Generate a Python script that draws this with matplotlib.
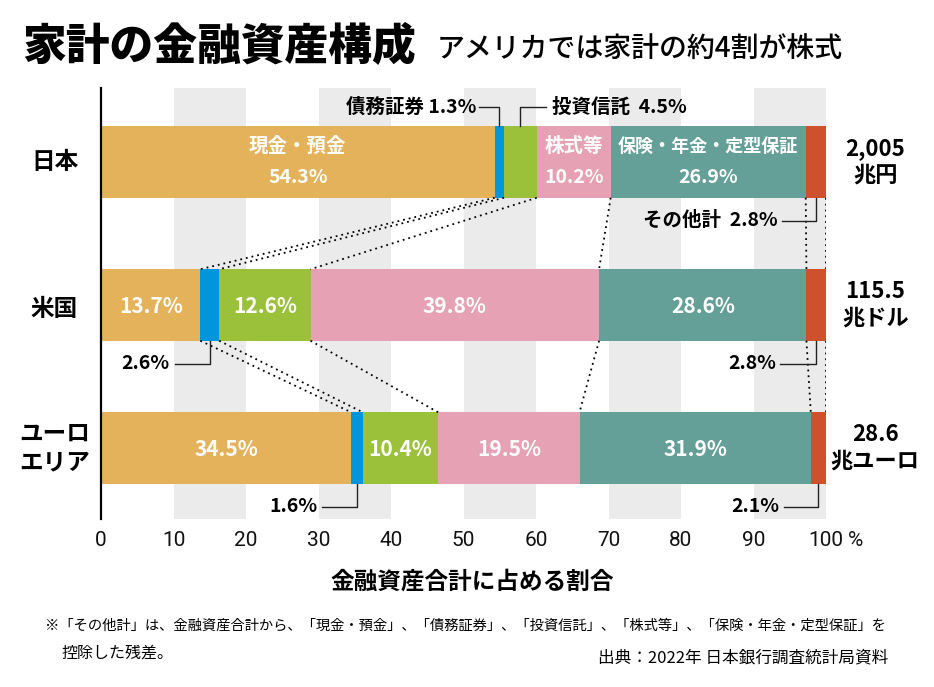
import matplotlib
matplotlib.use("Agg")
import matplotlib.pyplot as plt
import numpy as np

plt.rcParams['font.family'] = ['Noto Sans CJK JP', 'DejaVu Sans']

# ---- data ----
regions = ["日本", "米国", "ユーロ\nエリア"]
categories = ["現金・預金", "債務証券", "投資信託", "株式等", "保険・年金・定型保証", "その他計"]
japan = [54.3, 1.3, 4.5, 10.2, 26.9, 2.8]
usa = [13.7, 2.6, 12.6, 39.8, 28.6, 2.8]
euro = [34.5, 1.6, 10.4, 19.5, 31.9, 2.1]
totals = ["2,005\n兆円", "115.5\n兆ドル", "28.6\n兆ユーロ"]
xticks = [0, 10, 20, 30, 40, 50, 60, 70, 80, 90, 100]
xticklabels = ["0", "10", "20", "30", "40", "50", "60", "70", "80", "90", "100"]

colors = ["#E4B25A", "#0096DC", "#9BC13A", "#E6A1B4", "#64A098", "#CF502D"]
series = [japan, usa, euro]

W, H = 934, 687
fig = plt.figure(figsize=(W / 100, H / 100), dpi=100)
ax_l, ax_r, ax_t, ax_b = 101, 826, 88, 519
ax = fig.add_axes([ax_l / W, 1 - ax_b / H, (ax_r - ax_l) / W, (ax_b - ax_t) / H])
ax.set_xlim(0, 100)
pitch = 143.0
ax.set_ylim((ax_b - 162) / pitch, (ax_t - 162) / pitch)

# gray bands
for x0 in range(10, 100, 20):
    ax.axvspan(x0, x0 + 10, color="#EBEBEB", zorder=0, lw=0)

bh = 0.5
for i, vals in enumerate(series):
    left = 0
    for j, v in enumerate(vals):
        ax.barh(i, v, left=left, height=bh, color=colors[j], lw=0, zorder=2)
        left += v

# dotted connecting lines
for i in range(len(series) - 1):
    c1 = np.cumsum(series[i])
    c2 = np.cumsum(series[i + 1])
    for a, b in zip(c1, c2):
        ax.plot([min(a, 100), min(b, 100)], [i + bh / 2, i + 1 - bh / 2], color="black",
                lw=1.3, linestyle=(0, (1, 2.2)), zorder=3)

# inside labels
white = dict(color="white", fontweight="bold", ha="center", va="center", zorder=4)
for i, vals in enumerate(series):
    cum = np.cumsum([0] + vals)
    for j, v in enumerate(vals):
        if j in (1, 5):
            continue
        if i == 0 and j == 2:
            continue
        cx = (cum[j] + cum[j + 1]) / 2
        if i == 0:
            fs = 13 if j == 4 else 14
            ax.text(cx, i - 0.11, categories[j], fontsize=fs, **white)
            ax.text(cx, i + 0.11, f"{v}%", fontsize=14, **white)
        else:
            ax.text(cx, i + 0.01, f"{v}%", fontsize=15, **white)

# annotations with leader lines
ann = dict(color="black", fontweight="bold", fontsize=14, va="center", zorder=4)
lk = dict(color="#222222", lw=1.0, zorder=3, clip_on=False)
up = -0.385
dn = 0.41
# Japan bonds
cj = np.cumsum([0] + japan)
bx = (cj[1] + cj[2]) / 2
ax.text(51.8, 0 + up, f"{categories[1]} {japan[1]}%", ha="right", **ann)
ax.plot([52.1, bx, bx], [up, up, -bh / 2], **lk)
# Japan trusts
gx = (cj[2] + cj[3]) / 2
ax.plot([gx, gx, 61.4], [-bh / 2, up, up], **lk)
ax.text(62.2, up, f"{categories[2]}  {japan[2]}%", ha="left", **ann)
# Japan other
rx = (cj[5] + cj[6]) / 2
ax.text(93.3, dn, f"{categories[5]}  {japan[5]}%", ha="right", **ann)
ax.plot([93.9, rx, rx], [dn, dn, bh / 2], **lk)
# US bonds
cu = np.cumsum([0] + usa)
bx = (cu[1] + cu[2]) / 2
ax.text(9.5, 1 + dn, f"{usa[1]}%", ha="right", **ann)
ax.plot([10.2, bx, bx], [1 + dn, 1 + dn, 1 + bh / 2], **lk)
rx = (cu[5] + 100) / 2
ax.text(93.1, 1 + dn, f"{usa[5]}%", ha="right", **ann)
ax.plot([93.7, rx, rx], [1 + dn, 1 + dn, 1 + bh / 2], **lk)
# Euro
ce = np.cumsum([0] + euro)
bx = (ce[1] + ce[2]) / 2
ax.text(29.8, 2 + dn, f"{euro[1]}%", ha="right", **ann)
ax.plot([30.5, bx, bx], [2 + dn, 2 + dn, 2 + bh / 2], **lk)
rx = (ce[5] + ce[6]) / 2
ax.text(93.6, 2 + dn, f"{euro[5]}%", ha="right", **ann)
ax.plot([94.2, rx, rx], [2 + dn, 2 + dn, 2 + bh / 2], **lk)

# region labels & totals
for i, (r, t) in enumerate(zip(regions, totals)):
    dy = 0.03 if i == 1 else 0.0
    ax.text(-6.4, i + dy, r, ha="center", va="center", fontsize=17, fontweight="bold",
            linespacing=1.25, clip_on=False)
    ax.text(106.8, i, t, ha="center", va="center", fontsize=16, fontweight="bold",
            linespacing=1.2, clip_on=False)

# axes styling
for s in ["top", "right", "bottom"]:
    ax.spines[s].set_visible(False)
ax.spines["left"].set_linewidth(1.6)
ax.spines["left"].set_color("black")
ax.set_yticks([])
ax.set_xticks(xticks)
tick_font = ["Roboto", "DejaVu Sans"]
ax.set_xticklabels(xticklabels, fontsize=15, family=tick_font)
ax.tick_params(axis="x", length=0, pad=9, colors="#111111")
ax.annotate("%", xy=(100, 0), xycoords=("data", "axes fraction"), xytext=(21, -9),
            textcoords="offset points", ha="center", va="top", fontsize=15,
            family=tick_font, color="#111111", annotation_clip=False)

# titles
fig.text(22 / W, 1 - 47 / H, "家計の金融資産構成", fontsize=31.5, fontweight="heavy",
         ha="left", va="center")
fig.text(437 / W, 1 - 48 / H, "アメリカでは家計の約4割が株式", fontsize=20.1,
         fontweight="medium", ha="left", va="center")
fig.text(472 / W, 1 - 582 / H, "金融資産合計に占める割合", fontsize=17, fontweight="bold",
         ha="center", va="center")

# footnotes
note = fig.text(45 / W, 1 - 626 / H,
                "※「その他計」は、金融資産合計から、「現金・預金」、「債務証券」、「投資信託」、「株式等」、「保険・年金・定型保証」を",
                fontsize=12, ha="left", va="center")
note2 = fig.text(62 / W, 1 - 653 / H, "控除した残差。", fontsize=12, ha="left", va="center")
src = fig.text(888 / W, 1 - 658 / H, "出典：2022年 日本銀行調査統計局資料", fontsize=12,
               ha="right", va="center")
fig.canvas.draw()
r = fig.canvas.get_renderer()
w = note.get_window_extent(r).width
fs = 12 * (888 - 45) / w
note.set_fontsize(fs)
note2.set_fontsize(max(fs, 11.5))

fig.savefig("out.png", dpi=100)
